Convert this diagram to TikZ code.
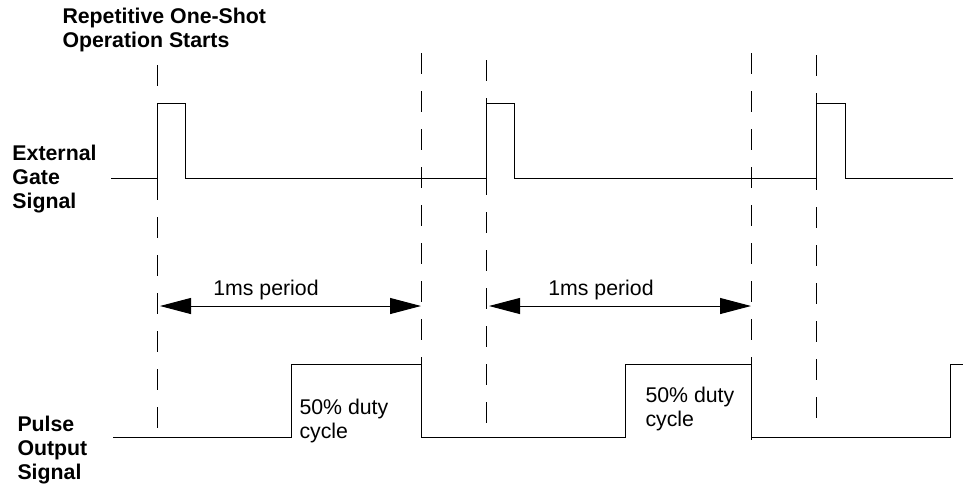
\documentclass[tikz,border=0pt]{standalone}
\usepackage{fontspec}
\setmainfont{Liberation Sans}
\usetikzlibrary{arrows.meta, positioning}

\begin{document}
\begin{tikzpicture}[x=1pt, y=-1pt, line width=1pt,
        every node/.style={inner sep=0pt, align=left, font=\fontsize{21.3}{24}\selectfont},
        period/.style={{Triangle[length=31pt,width=16pt]}-{Triangle[length=31pt,width=16pt]}},
        marker/.style={dash pattern=on 21pt off 17pt}]
        \useasboundingbox (0,0) rectangle (963,496);
        % titles
        \node[anchor=west, font=\bfseries\fontsize{21.3}{24}\selectfont] (start) at (62,30) {Repetitive One-Shot\\Operation Starts};
        \node[anchor=west, font=\bfseries\fontsize{21.3}{24}\selectfont] (gate) at (12,179) {External\\Gate\\Signal};
        \node[anchor=west, font=\bfseries\fontsize{21.3}{24}\selectfont] (pulse) at (17,450) {Pulse\\Output\\Signal};
        % dashed markers
        \foreach \x/\a/\b in {157/65/428, 421/53/437, 486/60/437, 751/53/440, 816/55/428} {
            \draw[marker] (\x,\a) -- (\x,\b);
        }
        % external gate signal
        \draw (111,178) -- (157,178) -- (157,103) -- (185,103) -- (185,178)
            -- (486,178) -- (486,103) -- (514,103) -- (514,178)
            -- (816,178) -- (816,103) -- (845,103) -- (845,178) -- (953,178);
        % pulse output signal
        \draw (113,437) -- (291,437) -- (291,364) -- (421,364) -- (421,437)
            -- (625,437) -- (625,364) -- (751,364) -- (751,437)
            -- (950,437) -- (950,364) -- (963,364);
        % periods
        \coordinate (pa1) at (160,306);
        \coordinate (pb1) at (421,306);
        \coordinate (pa2) at (489,306);
        \coordinate (pb2) at (751,306);
        \draw[period] (pa1) -- (pb1);
        \draw[period] (pa2) -- (pb2);
        \node (per1) at (266,290) {1ms period};
        \node (per2) at (601,290) {1ms period};
        % duty cycle
        \node[anchor=west] (duty1) at (299,421) {50\% duty\\cycle};
        \node[anchor=west] (duty2) at (645,409) {50\% duty\\cycle};
    \end{tikzpicture}
\end{document}
